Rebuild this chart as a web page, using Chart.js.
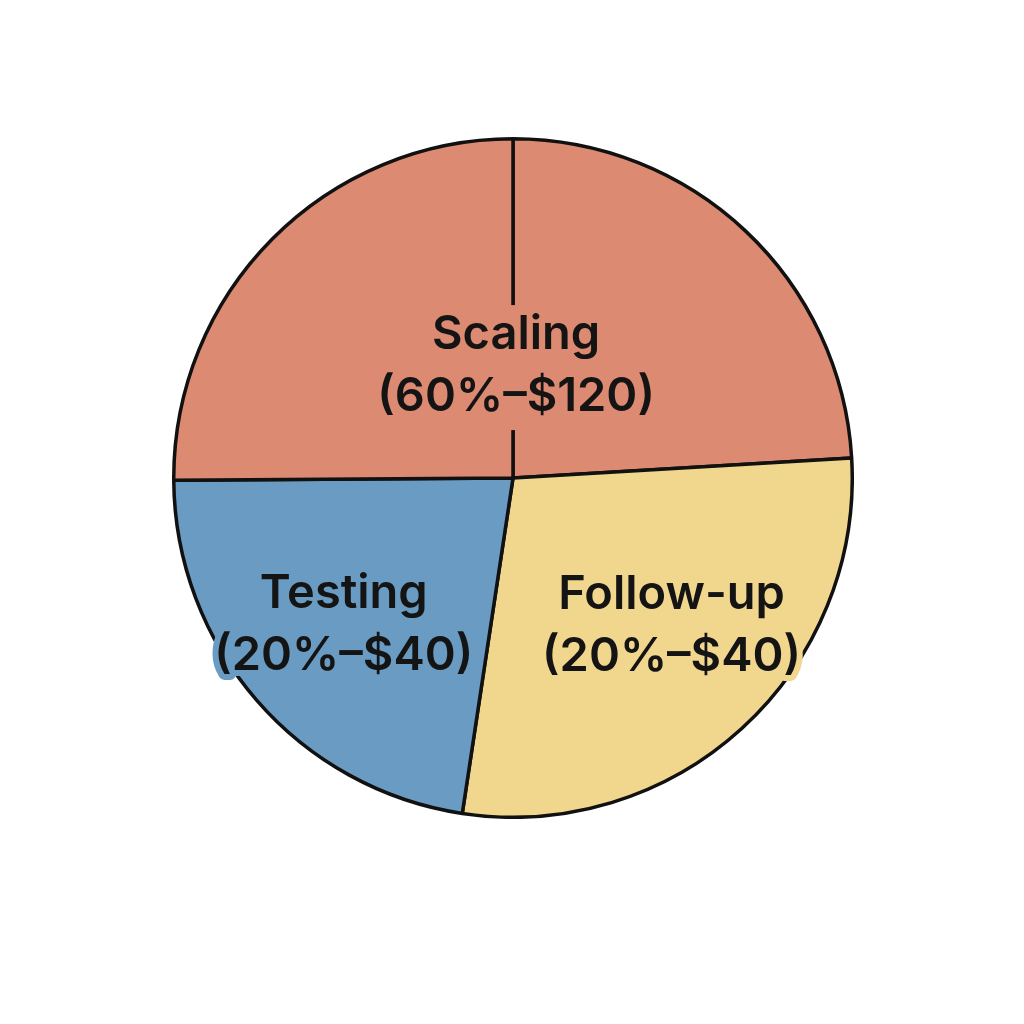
<!DOCTYPE html>
<html lang="en">
<head>
    <meta charset="UTF-8">
    <title>Budget Split</title>
    <script src="https://cdn.jsdelivr.net/npm/chart.js"></script>
    <style>
        html, body {
            margin: 0;
            padding: 0;
            background: #ffffff;
            width: 1024px;
            height: 1024px;
            overflow: hidden;
        }
        .chart-container {
            position: absolute;
            left: 172px;
            top: 137px;
            width: 682px;
            height: 682px;
        }
    </style>
</head>
<body>
    <div class="chart-container">
        <canvas id="budgetChart"></canvas>
    </div>
    <script>
        // Phases and their stated share / cost
        const categories = ['Scaling', 'Follow-up', 'Testing'];
        const shares = ['60%', '20%', '20%'];
        const costs = ['$120', '$40', '$40'];
        const colors = ['#DD8A72', '#F1D68E', '#6A9CC3'];

        // Slices as drawn (degrees, clockwise from top); Scaling is split by a line
        const sliceCategory = ['Scaling', 'Follow-up', 'Testing', 'Scaling'];
        const sliceDegrees = [86.6, 102, 81, 90.4];

        // Label placement: fraction of the radius and a small angle nudge (degrees)
        const labelRadius = { 'Scaling': 0.33, 'Follow-up': 0.64, 'Testing': 0.66 };
        const labelNudge = { 'Scaling': 3.5, 'Follow-up': -4.5, 'Testing': 0 };

        const labelPlugin = {
            id: 'groupLabels',
            afterDatasetsDraw(chart) {
                const ctx = chart.ctx;
                const arcs = chart.getDatasetMeta(0).data;
                ctx.save();
                ctx.font = '600 47px Inter, "Noto Sans", sans-serif';
                ctx.textAlign = 'center';
                ctx.textBaseline = 'middle';
                ctx.lineJoin = 'round';
                categories.forEach((cat, ci) => {
                    const idx = sliceCategory.map((c, i) => c === cat ? i : -1).filter(i => i >= 0);
                    let start, end;
                    if (idx.length > 1 && idx[0] === 0 && idx[idx.length - 1] === arcs.length - 1) {
                        // group wraps around the top
                        start = arcs[idx[idx.length - 1]].startAngle;
                        end = arcs[idx[0]].endAngle + Math.PI * 2;
                    } else {
                        start = arcs[idx[0]].startAngle;
                        end = arcs[idx[idx.length - 1]].endAngle;
                    }
                    const mid = (start + end) / 2 + labelNudge[cat] * Math.PI / 180;
                    const a = arcs[idx[0]];
                    const r = a.outerRadius * labelRadius[cat];
                    const x = a.x + Math.cos(mid) * r;
                    const y = a.y + Math.sin(mid) * r;
                    const lines = [cat, '(' + shares[ci] + '\u2013' + costs[ci] + ')'];

                    // slice-coloured patch behind the text (kept inside the pie edge)
                    ctx.save();
                    ctx.beginPath();
                    ctx.arc(a.x, a.y, a.outerRadius - 3, 0, Math.PI * 2);
                    ctx.clip();
                    ctx.fillStyle = colors[ci];
                    lines.forEach((t, li) => {
                        const w = ctx.measureText(t).width;
                        ctx.fillRect(x - w / 2, y - 61 + li * 62, w, 63);
                    });
                    ctx.restore();

                    // halo round the glyphs, then the glyphs
                    ctx.strokeStyle = colors[ci];
                    ctx.lineWidth = 12;
                    lines.forEach((t, li) => ctx.strokeText(t, x, y - 31 + li * 62));
                    ctx.fillStyle = '#141414';
                    lines.forEach((t, li) => ctx.fillText(t, x, y - 31 + li * 62));
                });
                ctx.restore();
            }
        };

        new Chart(document.getElementById('budgetChart'), {
            type: 'pie',
            data: {
                labels: sliceCategory,
                datasets: [{
                    data: sliceDegrees,
                    backgroundColor: sliceCategory.map(c => colors[categories.indexOf(c)]),
                    borderColor: '#111111',
                    borderWidth: 3.5
                }]
            },
            options: {
                responsive: true,
                maintainAspectRatio: false,
                animation: false,
                plugins: {
                    legend: { display: false },
                    tooltip: { enabled: false }
                }
            },
            plugins: [labelPlugin]
        });
    </script>
</body>
</html>
